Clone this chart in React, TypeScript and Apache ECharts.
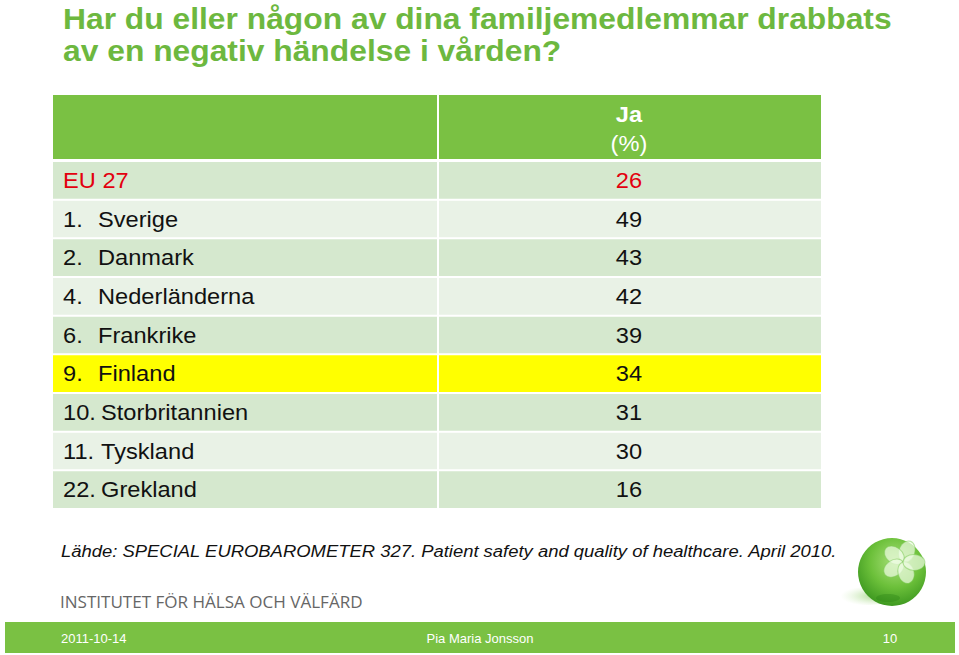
import React, { useEffect, useRef } from "react";
import * as echarts from "echarts";

const titleLines = [
  "Har du eller någon av dina familjemedlemmar drabbats",
  "av en negativ händelse i vården?",
];
const headerLines = ["Ja", "(%)"];
const ranks = ["", "1.", "2.", "4.", "6.", "9.", "10.", "11.", "22."];
const countries = [
  "EU 27",
  "Sverige",
  "Danmark",
  "Nederländerna",
  "Frankrike",
  "Finland",
  "Storbritannien",
  "Tyskland",
  "Grekland",
];
const values = [26, 49, 43, 42, 39, 34, 31, 30, 16];
const sourceText =
  "Lähde: SPECIAL EUROBAROMETER 327. Patient safety and quality of healthcare. April 2010.";
const footerDate = "2011-10-14";
const footerAuthor = "Pia Maria Jonsson";
const footerPage = "10";
const institute = "INSTITUTET FÖR HÄLSA OCH VÄLFÄRD";

const FONT = "'Liberation Sans', Arial, Helvetica, sans-serif";
const DARK = "#D5E8CE";
const LIGHT = "#E9F2E6";
const HIGHLIGHT = "#FFFF00";
const GREEN = "#7AC143";
const SX = 1.075;

export default function App() {
  const ref = useRef<HTMLDivElement>(null);
  useEffect(() => {
    if (!ref.current) return;
    const chart = echarts.init(ref.current, null, { renderer: "svg" });
    const LEFT = 53;
    const RIGHT = 821;
    const DIV = 437;
    const petalAngles = [-20, 52, 124, 196, 268];
    chart.setOption({
      animation: false,
      backgroundColor: "#ffffff",
      grid: { left: LEFT, right: 959 - RIGHT, top: 161, bottom: 655 - 509 },
      xAxis: { type: "value", min: 0, max: 1, show: false },
      yAxis: {
        type: "category",
        data: countries,
        inverse: true,
        show: false,
      },
      series: [
        {
          type: "custom",
          data: values.map((v, i) => [0, i, v]),
          encode: { x: 0, y: 1 },
          renderItem: (params: any, api: any) => {
            const idx = api.value(1);
            const val = api.value(2);
            const c = api.coord([0, idx]);
            const h = api.size([0, 1])[1];
            const top = c[1] - h / 2;
            const isEU = idx === 0;
            let fill = idx % 2 === 0 ? DARK : LIGHT;
            if (countries[idx] === "Finland") fill = HIGHLIGHT;
            const color = isEU ? "#E3000F" : "#111111";
            const rank = ranks[idx];
            const nameX = rank === "" ? 63 : rank.length > 2 ? 63 + 38 : 98;
            const children: any[] = [
              {
                type: "rect",
                shape: { x: LEFT, y: top + 1, width: DIV - LEFT, height: h - 2 },
                style: { fill },
              },
              {
                type: "rect",
                shape: { x: DIV + 2, y: top + 1, width: RIGHT - DIV - 2, height: h - 2 },
                style: { fill },
              },
              {
                type: "text",
                x: nameX,
                y: c[1],
                scaleX: SX,
                style: {
                  text: countries[idx],
                  fill: color,
                  font: `22px ${FONT}`,
                  textVerticalAlign: "middle",
                  textAlign: "left",
                },
              },
              {
                type: "text",
                x: (DIV + RIGHT) / 2,
                y: c[1],
                scaleX: SX,
                style: {
                  text: String(val),
                  fill: color,
                  font: `22px ${FONT}`,
                  textVerticalAlign: "middle",
                  textAlign: "center",
                },
              },
            ];
            if (rank !== "") {
              children.push({
                type: "text",
                x: 63,
                y: c[1],
                scaleX: SX,
                style: {
                  text: rank,
                  fill: color,
                  font: `22px ${FONT}`,
                  textVerticalAlign: "middle",
                  textAlign: "left",
                },
              });
            }
            return { type: "group", children };
          },
        },
      ],
      graphic: [
        {
          type: "text",
          x: 63,
          y: 3,
          scaleX: 1.06,
          style: {
            text: titleLines.join("\n"),
            fill: "#6DB83F",
            font: `bold 30px ${FONT}`,
            lineHeight: 32,
          },
        },
        {
          type: "rect",
          shape: { x: LEFT, y: 95, width: DIV - LEFT, height: 64 },
          style: { fill: GREEN },
        },
        {
          type: "rect",
          shape: { x: DIV + 2, y: 95, width: RIGHT - DIV - 2, height: 64 },
          style: { fill: GREEN },
        },
        {
          type: "text",
          x: (DIV + RIGHT) / 2,
          y: 114,
          scaleX: SX,
          style: {
            text: headerLines[0],
            fill: "#ffffff",
            font: `bold 22px ${FONT}`,
            textAlign: "center",
            textVerticalAlign: "middle",
          },
        },
        {
          type: "text",
          x: (DIV + RIGHT) / 2,
          y: 143,
          scaleX: SX,
          style: {
            text: headerLines[1],
            fill: "#ffffff",
            font: `22px ${FONT}`,
            textAlign: "center",
            textVerticalAlign: "middle",
          },
        },
        {
          type: "text",
          x: 61,
          y: 551,
          scaleX: 1.085,
          style: {
            text: sourceText,
            fill: "#111111",
            font: `italic 17px ${FONT}`,
            textVerticalAlign: "middle",
          },
        },
        {
          type: "text",
          x: 60,
          y: 602,
          scaleX: 1.1,
          style: {
            text: institute,
            fill: "#666666",
            font: `15.5px 'Open Sans', sans-serif`,
            textVerticalAlign: "middle",
          },
        },
        // logo shadow
        {
          type: "ellipse",
          shape: { cx: 866, cy: 596, rx: 32, ry: 9 },
          style: {
            fill: {
              type: "radial",
              x: 0.7,
              y: 0.5,
              r: 0.6,
              colorStops: [
                { offset: 0, color: "rgba(90,180,40,0.6)" },
                { offset: 1, color: "rgba(190,230,160,0)" },
              ],
            },
          },
        },
        {
          type: "circle",
          shape: { cx: 892, cy: 572, r: 34 },
          style: {
            fill: {
              type: "radial",
              x: 0.55,
              y: 0.35,
              r: 0.75,
              colorStops: [
                { offset: 0, color: "#A9E07A" },
                { offset: 0.5, color: "#6CC03A" },
                { offset: 1, color: "#2F8C18" },
              ],
            },
          },
        },
        {
          type: "ellipse",
          shape: { cx: 888, cy: 598, rx: 12, ry: 4 },
          style: { fill: "rgba(40,130,20,0.35)" },
        },
        {
          type: "group",
          x: 903,
          y: 562,
          children: petalAngles.map((a) => ({
            type: "ellipse",
            rotation: (a * Math.PI) / 180,
            shape: { cx: 0, cy: -11, rx: 8, ry: 11 },
            style: {
              fill: "rgba(240,252,230,0.7)",
              stroke: "rgba(120,200,80,0.5)",
              lineWidth: 1,
            },
          })),
        },
        {
          type: "rect",
          shape: { x: 5, y: 622, width: 950, height: 31 },
          style: { fill: GREEN },
        },
        {
          type: "text",
          x: 61,
          y: 638,
          style: {
            text: footerDate,
            fill: "#ffffff",
            font: `13px ${FONT}`,
            textVerticalAlign: "middle",
          },
        },
        {
          type: "text",
          x: 480,
          y: 638,
          style: {
            text: footerAuthor,
            fill: "#ffffff",
            font: `13px ${FONT}`,
            textAlign: "center",
            textVerticalAlign: "middle",
          },
        },
        {
          type: "text",
          x: 890,
          y: 638,
          style: {
            text: footerPage,
            fill: "#ffffff",
            font: `13px ${FONT}`,
            textAlign: "center",
            textVerticalAlign: "middle",
          },
        },
      ],
    });
    return () => chart.dispose();
  }, []);
  return (
    <div
      ref={ref}
      style={{ position: "fixed", left: 0, top: 0, width: 959, height: 655 }}
    />
  );
}
